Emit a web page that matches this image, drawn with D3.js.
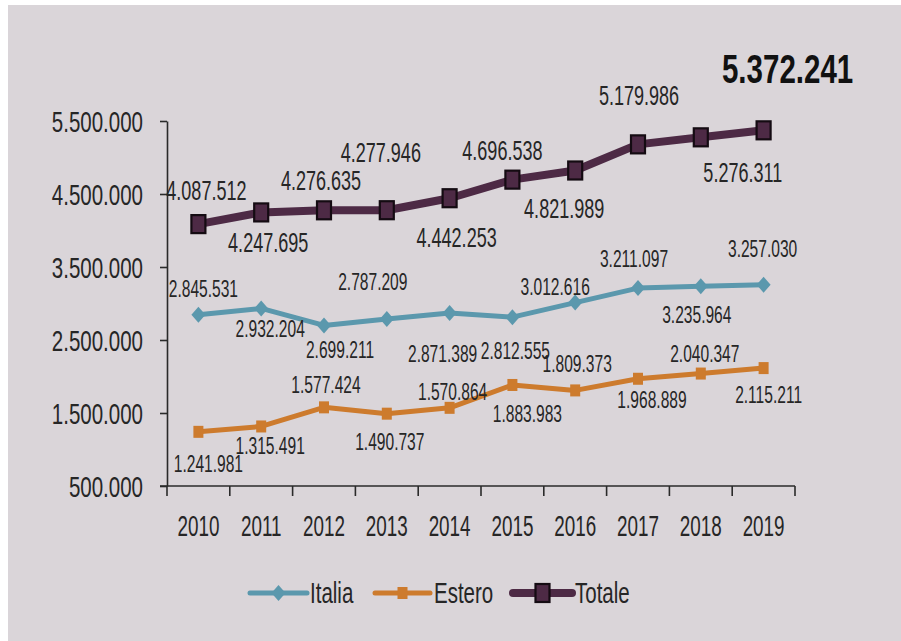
<!DOCTYPE html>
<html>
<head>
<meta charset="utf-8">
<script src="https://cdn.jsdelivr.net/npm/d3@7/dist/d3.min.js"></script>
<style>
  html, body { margin: 0; padding: 0; background: #ffffff; }
  svg { display: block; }
</style>
</head>
<body>
<svg id="chart" width="901" height="641"></svg>
<script>
// ---- data ----
const years = ["2010", "2011", "2012", "2013", "2014", "2015", "2016", "2017", "2018", "2019"];
const italia = [2845531, 2932204, 2699211, 2787209, 2871389, 2812555, 3012616, 3211097, 3235964, 3257030];
const estero = [1241981, 1315491, 1577424, 1490737, 1570864, 1883983, 1809373, 1968889, 2040347, 2115211];
const totale = [4087512, 4247695, 4276635, 4277946, 4442253, 4696538, 4821989, 5179986, 5276311, 5372241];
const yTicks = [500000, 1500000, 2500000, 3500000, 4500000, 5500000];
const seriesNames = ["Italia", "Estero", "Totale"];

// ---- label placement around each point: [dx, dy to baseline] ----
const italiaLabelPos = [[5, -18], [9, 29], [16, 33], [-14, -29], [-7, 49], [3, 42], [-20, -8], [-4, -21], [-4, 37], [-1, -28]];
const esteroLabelPos = [[10, 40], [9, 28], [2, -14], [3, 36], [3, -8], [15, 37], [2, -18], [14, 29], [4, -12], [5, 35]];
const totaleLabelPos = [[8, -24], [7, 40], [-3, -20], [-6, -48], [7, 49], [-10, -20], [-11, 48], [1, -39], [42, 45], [24, -47]];

// ---- fonts: prefer a condensed face, otherwise squeeze the regular one ----
function hasFont(name) {
  const ctx = document.createElement("canvas").getContext("2d");
  const probe = "0123456789.IltaEsero";
  ctx.font = "40px monospace";
  const a = ctx.measureText(probe).width;
  ctx.font = `40px "${name}", monospace`;
  const b = ctx.measureText(probe).width;
  return Math.abs(a - b) > 0.5;
}
const narrow = hasFont("Liberation Sans Narrow");
const family = narrow ? "'Liberation Sans Narrow', 'Arial Narrow', sans-serif" : "'Liberation Sans', Arial, sans-serif";
const sx = narrow ? 1 : 0.82;

const fmt = d3.formatLocale({ decimal: ",", thousands: ".", grouping: [3], currency: ["€", ""] }).format(",d");

const W = 901, H = 641;
const svg = d3.select("#chart");

// backdrop
svg.append("rect").attr("x", 0).attr("y", 0).attr("width", W).attr("height", H).attr("fill", "#ffffff");
svg.append("rect").attr("x", 8).attr("y", 5).attr("width", W - 8).attr("height", H - 5).attr("fill", "#dad5d9");

const textColor = "#262626";
const axisColor = "#2a2a2a";

function label(g, x, y, str, size, sy, anchor, weight) {
  return g.append("text")
    .attr("transform", `translate(${x},${y}) scale(${sx},${sy})`)
    .attr("text-anchor", anchor || "middle")
    .style("font-family", family)
    .style("font-size", size + "px")
    .style("font-weight", weight || "normal")
    .attr("fill", textColor)
    .text(str);
}

// ---- scales ----
const x = d3.scaleBand().domain(years).range([167, 795]).paddingInner(0).paddingOuter(0);
const cx = d => x(d) + x.bandwidth() / 2;
const y = d3.scaleLinear().domain([500000, 5500000]).range([486, 121]);

// ---- y axis ----
const yAxis = svg.append("g").attr("transform", "translate(167,0)")
  .call(d3.axisLeft(y).tickValues(yTicks).tickFormat(fmt).tickSize(7).tickSizeOuter(0));
yAxis.select(".domain").attr("stroke", axisColor).attr("stroke-width", 1.6);
yAxis.selectAll(".tick line").attr("stroke", axisColor).attr("stroke-width", 1.6);
yAxis.selectAll(".tick text")
  .attr("x", null).attr("dy", null)
  .attr("transform", `translate(-24,10) scale(${sx},1.2)`)
  .attr("text-anchor", "end")
  .attr("fill", textColor)
  .style("font-family", family)
  .style("font-size", "25px");

// ---- x axis: line and ticks on the category boundaries ----
const xAxis = svg.append("g").attr("transform", "translate(0,486)")
  .call(d3.axisBottom(x).tickSize(0).tickSizeOuter(0));
xAxis.select(".domain").attr("stroke", axisColor).attr("stroke-width", 1.6)
  .attr("d", `M160,0H${x.range()[1]}`);
xAxis.selectAll(".tick text")
  .attr("y", null).attr("dy", null)
  .attr("transform", `translate(0,50) scale(${sx},1.25)`)
  .attr("fill", textColor)
  .style("font-family", family)
  .style("font-size", "23px");
const bounds = years.map(d => x(d)).concat([x.range()[1]]);
xAxis.selectAll("line.boundary").data(bounds).join("line")
  .attr("class", "boundary")
  .attr("x1", d => d).attr("x2", d => d)
  .attr("y1", 0).attr("y2", 10)
  .attr("stroke", axisColor).attr("stroke-width", 1.6);

// ---- series ----
const series = [
  { name: "Italia", values: italia, color: "#5b98ad", width: 5, marker: "diamond", pos: italiaLabelPos, size: 19, sy: 1.28 },
  { name: "Estero", values: estero, color: "#cd7b2d", width: 5, marker: "square", pos: esteroLabelPos, size: 19, sy: 1.28 },
  { name: "Totale", values: totale, color: "#4d2a45", width: 8, marker: "box", pos: totaleLabelPos, size: 22, sy: 1.22 }
];

function drawMarker(g, kind, px, py, color) {
  if (kind === "diamond") {
    g.append("path")
      .attr("d", `M${px},${py - 8}L${px + 7},${py}L${px},${py + 8}L${px - 7},${py}Z`)
      .attr("fill", color);
  } else if (kind === "square") {
    g.append("rect").attr("x", px - 5).attr("y", py - 6).attr("width", 10).attr("height", 12)
      .attr("fill", color);
  } else {
    g.append("rect").attr("x", px - 7).attr("y", py - 9).attr("width", 14).attr("height", 18)
      .attr("fill", color).attr("stroke", "#140b12").attr("stroke-width", 2.2);
  }
}

const line = d3.line().x(d => cx(d.year)).y(d => y(d.value));

series.forEach(s => {
  const pts = years.map((yr, i) => ({ year: yr, value: s.values[i] }));
  const g = svg.append("g").attr("class", "series-" + s.name);
  g.append("path").datum(pts)
    .attr("d", line)
    .attr("fill", "none")
    .attr("stroke", s.color)
    .attr("stroke-width", s.width)
    .attr("stroke-linejoin", "round");
  pts.forEach(p => drawMarker(g, s.marker, cx(p.year), y(p.value), s.color));
});

// ---- value labels ----
series.forEach(s => {
  const g = svg.append("g").attr("class", "labels-" + s.name);
  years.forEach((yr, i) => {
    const v = s.values[i];
    const [dx, dy] = s.pos[i];
    const last = s.name === "Totale" && i === years.length - 1;
    if (last) {
      label(g, cx(yr) + dx, y(v) + dy, fmt(v), 36, 1.12, "middle", "bold").attr("fill", "#111111");
    } else {
      label(g, cx(yr) + dx, y(v) + dy, fmt(v), s.size, s.sy, "middle");
    }
  });
});

// ---- legend ----
const legendItems = [
  { name: seriesNames[0], x0: 250, x1: 307, tx: 310 },
  { name: seriesNames[1], x0: 375, x1: 430, tx: 434 },
  { name: seriesNames[2], x0: 513, x1: 572, tx: 575 }
];
const legend = svg.append("g").attr("class", "legend");
legendItems.forEach((it, i) => {
  const s = series[i];
  const ly = 593;
  legend.append("line").attr("x1", it.x0).attr("x2", it.x1).attr("y1", ly).attr("y2", ly)
    .attr("stroke", s.color).attr("stroke-width", s.width).attr("stroke-linecap", "round");
  drawMarker(legend, s.marker, (it.x0 + it.x1) / 2, ly, s.color);
  label(legend, it.tx, ly + 10, it.name, 25, 1.15, "start");
});
</script>
</body>
</html>
